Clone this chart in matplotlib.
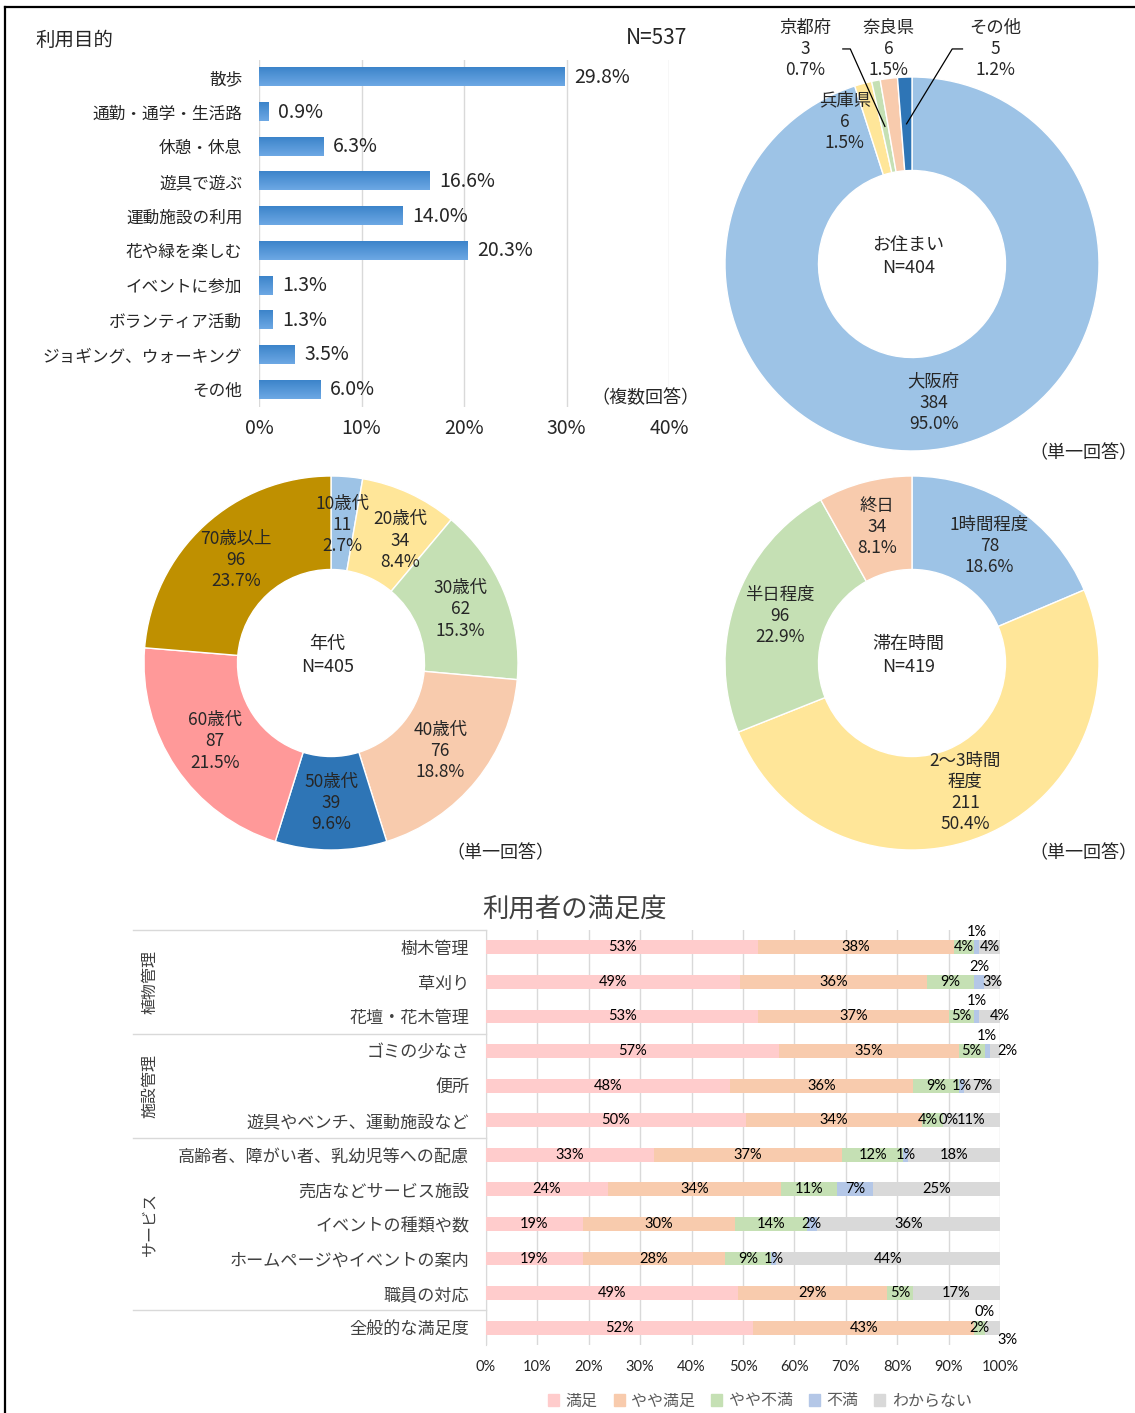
import numpy as np
import matplotlib
matplotlib.use('Agg')
import matplotlib.pyplot as plt
import matplotlib.transforms as mtransforms
from matplotlib.colors import LinearSegmentedColormap
from matplotlib.lines import Line2D
from matplotlib.patches import Patch

plt.rcParams['font.family'] = ['Noto Sans CJK JP', 'DejaVu Sans']

W, H = 1135, 1413

# --- data -----------------------------------------------------------------
# 利用目的 (複数回答, N=537)
purpose_labels = ['散歩', '通勤・通学・生活路', '休憩・休息', '遊具で遊ぶ', '運動施設の利用',
                  '花や緑を楽しむ', 'イベントに参加', 'ボランティア活動',
                  'ジョギング、ウォーキング', 'その他']
purpose_pct = [29.8, 0.9, 6.3, 16.6, 14.0, 20.3, 1.3, 1.3, 3.5, 6.0]

# お住まい (N=404)
home_labels = ['大阪府', '兵庫県', '京都府', '奈良県', 'その他']
home_counts = [384, 6, 3, 6, 5]
home_pct = [95.0, 1.5, 0.7, 1.5, 1.2]

# 年代 (N=405)
age_labels = ['10歳代', '20歳代', '30歳代', '40歳代', '50歳代', '60歳代', '70歳以上']
age_counts = [11, 34, 62, 76, 39, 87, 96]
age_pct = [2.7, 8.4, 15.3, 18.8, 9.6, 21.5, 23.7]

# 滞在時間 (N=419)
stay_labels = ['1時間程度', '2～3時間\n程度', '半日程度', '終日']
stay_counts = [78, 211, 96, 34]
stay_pct = [18.6, 50.4, 22.9, 8.1]

# 利用者の満足度
sat_items = ['樹木管理', '草刈り', '花壇・花木管理', 'ゴミの少なさ', '便所',
             '遊具やベンチ、運動施設など', '高齢者、障がい者、乳幼児等への配慮',
             '売店などサービス施設', 'イベントの種類や数', 'ホームページやイベントの案内',
             '職員の対応', '全般的な満足度']
sat_groups = ['植物管理', '施設管理', 'サービス']
sat_group_rows = [(0, 2), (3, 5), (6, 10)]
sat_series = ['満足', 'やや満足', 'やや不満', '不満', 'わからない']
sat_satisfied = [53, 49, 53, 57, 48, 50, 33, 24, 19, 19, 49, 52]
sat_fairly = [38, 36, 37, 35, 36, 34, 37, 34, 30, 28, 29, 43]
sat_somewhat_bad = [4, 9, 5, 5, 9, 4, 12, 11, 14, 9, 5, 2]
sat_bad = [1, 2, 1, 1, 1, 0, 1, 7, 2, 1, 0, 0]
sat_unknown = [4, 3, 4, 2, 7, 11, 18, 25, 36, 44, 17, 3]

# --- styles ---------------------------------------------------------------
TXT = '#262626'
GRID = '#d9d9d9'
pie_colors = ['#9dc3e6', '#ffe699', '#c5e0b4', '#f8cbad', '#2e75b6', '#ff9999', '#bf9000']
home_colors = ['#9dc3e6', '#ffe699', '#c5e0b4', '#f8cbad', '#2e75b6']
sat_colors = ['#ffcccc', '#f8cbad', '#c5e0b4', '#b4c7e7', '#d9d9d9']
bar_grad = LinearSegmentedColormap.from_list('bar', ['#3c84ca', '#6da8e4'])

fig = plt.figure(figsize=(W / 100, H / 100), dpi=100)


def px_rect(l, t, r, b):
    return [l / W, 1 - b / H, (r - l) / W, (b - t) / H]


def fig_text(x, y, s, **kw):
    kw.setdefault('color', TXT)
    fig.text(x / W, 1 - y / H, s, **kw)


# frame
fig.add_artist(Line2D([5 / W, 1], [1 - 7 / H] * 2, color='black', lw=1.6))
fig.add_artist(Line2D([5 / W] * 2, [0, 1 - 7 / H], color='black', lw=1.6))

# --- 利用目的 --------------------------------------------------------------
ax = fig.add_axes(px_rect(259, 60, 669, 407))
y = np.arange(len(purpose_pct))
bars = ax.barh(y, purpose_pct, height=0.52, color='none', zorder=3)
grad = np.linspace(0, 1, 64).reshape(-1, 1)
for b in bars:
    x0, y0, w, h = b.get_x(), b.get_y(), b.get_width(), b.get_height()
    ax.imshow(grad, cmap=bar_grad, aspect='auto', extent=[x0, x0 + w, y0 + h, y0],
              origin='upper', zorder=3)
for yi, v in zip(y, purpose_pct):
    ax.annotate(f'{v:.1f}%', (v, yi), xytext=(7, 0), textcoords='offset points',
                ha='left', va='center', fontsize=14, color=TXT)
ax.set_xlim(0, 40)
ax.set_ylim(len(y) - 0.5, -0.5)
ax.set_xticks(range(0, 41, 10))
ax.set_xticklabels([f'{t}%' for t in range(0, 41, 10)], fontsize=14, color=TXT)
ax.set_yticks(y)
ax.set_yticklabels(purpose_labels, fontsize=12, color=TXT)
ax.tick_params(length=0, axis='y', pad=12)
ax.tick_params(length=0, axis='x', pad=8)
ax.grid(axis='x', color=GRID, lw=1, zorder=0)
for s in ax.spines.values():
    s.set_visible(False)

fig_text(35, 40, '利用目的', fontsize=14, ha='left', va='center')
fig_text(687, 38, 'N=537', fontsize=15, ha='right', va='center')
fig_text(645, 398, '（複数回答）', fontsize=13, ha='center', va='center')


# --- donuts ---------------------------------------------------------------
def donut(cx, cy, counts, names, pcts, colors, center_text, moved=None, leaders=None):
    r = 187
    ax = fig.add_axes(px_rect(cx - r, cy - r, cx + r, cy + r))
    ax.pie(counts, colors=colors, startangle=90, counterclock=False, radius=1,
           wedgeprops=dict(width=0.5, edgecolor='white', linewidth=1))
    ax.set_xlim(-1, 1)
    ax.set_ylim(-1, 1)
    total = sum(counts)
    cum = 0
    for i, (n, c, p) in enumerate(zip(names, counts, pcts)):
        ang = np.deg2rad(90 - 360 * (cum + c / 2) / total)
        cum += c
        mx, my = 0.75 * np.cos(ang), 0.75 * np.sin(ang)
        tx, ty = (moved or {}).get(i, (mx, my))
        ax.text(tx, ty, f'{n}\n{c}\n{p:.1f}%', ha='center', va='center',
                fontsize=12.5, color=TXT, linespacing=1.22, clip_on=False)
        if leaders and i in leaders:
            x0, x1, yl = leaders[i]
            ax.plot([x0, x1, mx], [yl, yl, my], color='black', lw=0.9, clip_on=False)
    ax.text(-0.02, 0.04, center_text, ha='center', va='center', fontsize=13,
            color=TXT, linespacing=1.3)
    return ax


donut(912, 264, home_counts, home_labels, home_pct, home_colors, 'お住まい\nN=404',
      moved={1: (-0.36, 0.76), 2: (-0.57, 1.15), 3: (-0.125, 1.15), 4: (0.445, 1.15)},
      leaders={2: (-0.37, -0.33, 1.15), 4: (0.27, 0.215, 1.15)})
donut(331, 663, age_counts, age_labels, age_pct, pie_colors, '年代\nN=405',
      moved={0: (0.06, 0.74), 1: (0.37, 0.655)})
donut(912, 663, stay_counts, stay_labels, stay_pct, pie_colors[:4], '滞在時間\nN=419')

fig_text(1083, 453, '（単一回答）', fontsize=13, ha='center', va='center')
fig_text(500, 853, '（単一回答）', fontsize=13, ha='center', va='center')
fig_text(1083, 853, '（単一回答）', fontsize=13, ha='center', va='center')

# --- 利用者の満足度 -------------------------------------------------------
ax = fig.add_axes(px_rect(486, 930, 1000, 1345))
data = np.array([sat_satisfied, sat_fairly, sat_somewhat_bad, sat_bad, sat_unknown]).T
shares = data / data.sum(axis=1, keepdims=True) * 100
rows = np.arange(len(sat_items))

# label nudges in points (row, series) -> (dx, dy); None hides the label
nudge = {(0, 3): (0, 11), (1, 3): (0, 11), (2, 3): (0, 11), (3, 3): (0, 11),
         (11, 3): (0, 11), (11, 4): (11, -9), (2, 4): (7, 0), (3, 4): (9, 0),
         (5, 2): (-3, 0), (5, 3): (4, 0), (10, 3): None}

left = np.zeros(len(rows))
for j, name in enumerate(sat_series):
    ax.barh(rows, shares[:, j], left=left, height=0.4, color=sat_colors[j],
            label=name, zorder=3)
    for i in rows:
        off = nudge.get((i, j), (0, 0))
        if off is None:
            continue
        ax.annotate(f'{data[i, j]}%', (left[i] + shares[i, j] / 2, i), xytext=off,
                    textcoords='offset points', ha='center', va='center',
                    fontsize=10.5, family=['Lato', 'DejaVu Sans'], color='black',
                    zorder=4)
    left += shares[:, j]

ax.set_xlim(0, 100)
ax.set_ylim(len(rows) - 0.5, -0.5)
ax.set_xticks(range(0, 101, 10))
ax.set_xticklabels([f'{t}%' for t in range(0, 101, 10)], fontsize=10.5,
                   family=['Lato', 'DejaVu Sans'], color=TXT)
ax.set_yticks(rows)
ax.set_yticklabels(sat_items, fontsize=12.3, color='#404040')
ax.tick_params(length=0, axis='y', pad=12)
ax.tick_params(length=0, axis='x', pad=11)
ax.grid(axis='x', color=GRID, lw=1, zorder=0)
for k, s in ax.spines.items():
    s.set_visible(k == 'left')
ax.spines['left'].set_color(GRID)

# group separators and vertical group names
trans = mtransforms.blended_transform_factory(ax.transAxes, ax.transData)
x_left = (133 - 486) / 514
for yb in [-0.5, 2.5, 5.5, 10.5]:
    ax.plot([x_left, 0], [yb, yb], color=GRID, lw=1, transform=trans, clip_on=False)
for g, (a, b) in zip(sat_groups, sat_group_rows):
    ax.text((150 - 486) / 514, (a + b) / 2, g, rotation=90, ha='center', va='center',
            fontsize=11.5, color='#404040', transform=trans)

fig_text(575, 909, '利用者の満足度', fontsize=19, ha='center', va='center', color='#404040')

handles = [Patch(color=c) for c in sat_colors]
fig.legend(handles, sat_series, loc='center', bbox_to_anchor=(760 / W, 1 - 1401 / H),
           ncol=5, frameon=False, fontsize=11.5, handlelength=0.7, handleheight=0.7,
           handletextpad=0.4, columnspacing=1.0, labelcolor='#595959')

fig.savefig('out.png', dpi=100)
